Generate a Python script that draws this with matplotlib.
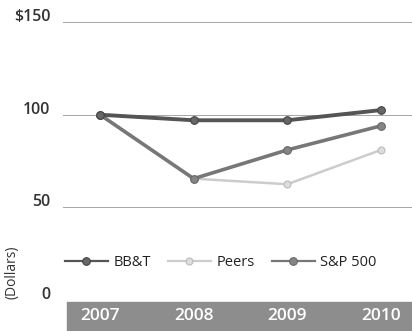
import matplotlib
matplotlib.use("Agg")
import matplotlib.pyplot as plt
import matplotlib.transforms as mtransforms

# Cumulative total return of $100 invested at the end of 2007
years = [2007, 2008, 2009, 2010]
bbt = [100, 97, 97, 102.5]
peers = [100, 65.5, 62.5, 81]
sp500 = [100, 65.5, 81, 94]
grid_values = [50, 100, 150]
ytick_labels = ["50", "100", "$150"]
zero_label = "0"
year_labels = ["2007", "2008", "2009", "2010"]

plt.rcParams['font.family'] = ['Open Sans', 'DejaVu Sans']

W, H = 412, 331
fig = plt.figure(figsize=(W / 100, H / 100), dpi=100)
ax = fig.add_axes([63 / W, 0, 1 - 63 / W, 1])
ax.set_xlim(2006.605, 2010.331)
ax.set_ylim(-16.7, 161.9)
ax.axis("off")

# horizontal gridlines
for v in grid_values:
    ax.axhline(v, color="#a5a5a5", lw=0.7, zorder=1)

# shaded year band along the bottom
ax.axhspan(-16.7, -1.1, xmin=(2006.648 - 2006.605) / (2010.331 - 2006.605),
           xmax=1, color="#8d8d8d", zorder=0)
for yr, lab in zip(years, year_labels):
    ax.text(yr, -8.6, lab, ha="center", va="center", color="white",
            fontsize=12.5, fontweight="semibold", zorder=3)

# y labels, set slightly above their gridlines
up = mtransforms.offset_copy(ax.transData, fig=fig, x=0, y=5, units="dots")
for v, lab in zip(grid_values, ytick_labels):
    ax.text(2006.47, v, lab, transform=up, ha="right", va="center",
            fontsize=11.5, fontweight="semibold", color="#333333", clip_on=False)
ax.text(2006.42, 0, zero_label, transform=up, ha="center", va="center",
        fontsize=11.5, fontweight="semibold", color="#333333", clip_on=False)
fig.text(12 / W, 1 - 272 / H, "(Dollars)", rotation=90, ha="center", va="center",
         fontsize=10, color="#333333")

# series
ax.plot(years, peers, color="#cccccc", lw=1.8, marker="o", ms=5,
        mfc="#dddddd", mec="#bbbbbb", mew=0.8, label="Peers", zorder=4)
ax.plot(years, sp500, color="#777777", lw=2.6, marker="o", ms=5.5,
        mfc="#858585", mec="#666666", mew=0.8, label="S&P 500", zorder=5)
ax.plot(years, bbt, color="#555555", lw=2.8, marker="o", ms=5.5,
        mfc="#666666", mec="#444444", mew=0.8, label="BB&T", zorder=6)

handles, labels = ax.get_legend_handles_labels()
order = [2, 0, 1]
leg = ax.legend([handles[i] for i in order], [labels[i] for i in order],
                loc="center left", bbox_to_anchor=(-0.01, 1 - 263 / H),
                ncol=3, frameon=False, fontsize=10.5, handlelength=2.9,
                handletextpad=0.4, columnspacing=1.2, borderaxespad=0)
for t in leg.get_texts():
    t.set_color("#222222")
for h in leg.legend_handles:
    h.set_linewidth(1.6)

fig.savefig("out.png", dpi=100)
